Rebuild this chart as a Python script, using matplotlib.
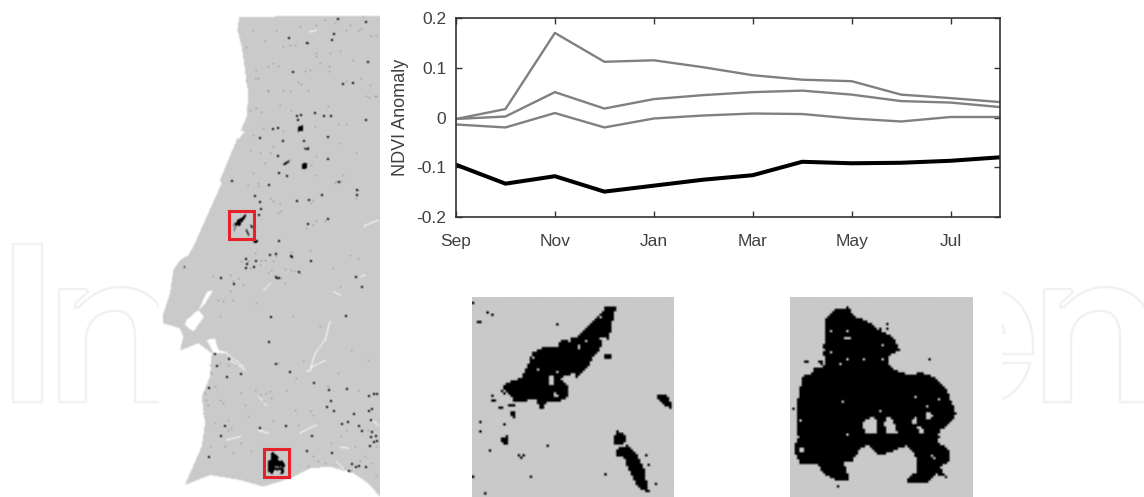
import numpy as np
import matplotlib
matplotlib.use("Agg")
import matplotlib.pyplot as plt
from matplotlib.path import Path
from matplotlib.patches import PathPatch, Rectangle
from matplotlib.colors import ListedColormap

plt.rcParams["font.family"] = ["Liberation Sans", "DejaVu Sans"]

W, H = 1144, 497
GREY = "#c9c9c9"
WM = "#f0f2f2"

# line chart
months = np.arange(12)
tick_pos = [0, 2, 4, 6, 8, 10]
tick_names = ["Sep", "Nov", "Jan", "Mar", "May", "Jul"]
y_ticks = [-0.2, -0.1, 0, 0.1, 0.2]
y_names = ["-0.2", "-0.1", "0", "0.1", "0.2"]
upper = [-0.003, 0.017, 0.170, 0.112, 0.115, 0.101, 0.085, 0.076, 0.073, 0.046, 0.039, 0.031]
middle = [-0.003, 0.002, 0.051, 0.018, 0.037, 0.045, 0.051, 0.054, 0.046, 0.033, 0.030, 0.021]
lower = [-0.014, -0.020, 0.009, -0.020, -0.002, 0.004, 0.008, 0.007, -0.002, -0.008, 0.001, 0.001]
anomaly = [-0.095, -0.133, -0.118, -0.149, -0.137, -0.125, -0.116, -0.089, -0.092, -0.091, -0.087, -0.080]

# map outline, zoomed coordinates (x3, origin 130,0)
coast = [(328, 50), (750, 48), (750, 1490), (715, 1450), (670, 1420), (600, 1400), (540, 1405),
         (480, 1435), (400, 1460), (330, 1440), (240, 1425), (165, 1455), (180, 1420), (215, 1340),
         (225, 1270), (215, 1190), (240, 1130), (245, 1060), (205, 1030), (150, 1052), (160, 1010),
         (150, 985), (100, 970), (100, 940), (120, 880), (130, 810), (150, 780), (175, 765),
         (190, 740), (230, 650), (275, 550), (270, 540), (320, 420), (350, 350), (355, 280),
         (345, 210), (335, 140), (322, 90)]
water = [[(170, 960), (205, 930), (222, 950), (190, 995), (165, 975)],
         [(205, 930), (232, 875), (250, 870), (222, 915)],
         [(230, 1020), (255, 1015), (265, 1050), (300, 1060), (250, 1058)],
         [(318, 392), (345, 392), (325, 418)]]
rivers = [[(600, 965), (585, 1020), (555, 1060), (540, 1110), (528, 1115)],
          [(540, 1105), (585, 1080)], [(400, 870), (420, 850)], [(702, 678), (745, 660)],
          [(538, 95), (558, 92)], [(620, 1385), (645, 1412)], [(300, 1080), (345, 1110)],
          [(610, 875), (630, 885)], [(510, 1300), (560, 1275)], [(385, 1190), (410, 1215)],
          [(290, 1320), (330, 1310)], [(690, 830), (705, 825)], [(720, 1255), (745, 1275)],
          [(385, 1290), (415, 1300)], [(290, 1060), (340, 1100)], [(630, 1340), (655, 1345)]]

# named burn scars on the map, zoomed coordinates
scars = [[(505, 380), (520, 375), (520, 392), (503, 395)], [(515, 492), (532, 487), (530, 505), (515, 508)],
         [(458, 492), (480, 480), (476, 488), (462, 497)], [(370, 722), (388, 718), (380, 729), (371, 729)],
         [(525, 125), (538, 130), (534, 133)], [(522, 445), (540, 441), (526, 449)],
         [(435, 828), (445, 835), (440, 838)], [(160, 797), (168, 797), (162, 806)]]

north_origin = (240, 10)
north_dark = [(292, 24), (280, 70), (275, 88), (145, 82), (382, 155), (338, 218), (375, 327), (222, 307), (57, 383),
              (97, 355), (112, 352), (263, 378), (128, 390), (113, 435), (263, 446), (307, 220), (375, 35), (200, 97),
              (157, 183), (272, 317), (250, 315), (180, 312), (168, 315), (172, 328), (190, 390), (203, 414)]
north_faint = [(230, 45), (330, 45), (355, 60), (365, 58), (370, 20), (410, 75), (395, 80), (320, 60), (285, 40),
               (255, 30), (130, 110), (150, 105), (165, 105), (230, 130), (228, 140), (270, 130), (240, 160),
               (268, 170), (268, 185), (195, 183), (212, 180), (100, 160), (85, 170), (115, 170), (50, 180), (45, 205),
               (55, 205), (175, 218), (185, 222), (130, 240), (85, 240), (85, 245), (150, 245), (205, 240), (320, 215),
               (365, 205), (390, 225), (380, 258), (388, 262), (405, 260), (410, 258), (265, 290), (120, 285),
               (48, 295), (65, 308), (155, 300), (295, 342), (318, 342), (225, 350), (40, 375), (130, 365), (100, 410),
               (60, 430), (30, 420), (75, 460), (90, 430), (230, 440), (215, 465), (18, 113), (40, 60), (75, 95),
               (110, 60), (180, 50), (300, 125), (340, 150), (20, 215), (30, 300), (70, 355), (350, 430), (300, 400)]
centre_origin = (210, 170)
centre_dark = [(205, 7), (228, 17), (65, 32), (175, 42), (132, 75), (148, 95), (152, 115), (146, 132), (293, 160),
               (352, 145), (334, 72), (440, 58), (438, 72), (260, 90), (295, 88), (385, 35), (197, 320), (205, 323),
               (105, 265), (110, 280), (130, 290), (105, 292), (137, 270), (178, 253), (197, 250), (245, 258),
               (240, 255), (265, 303), (300, 272), (205, 212), (182, 440), (435, 318), (453, 350), (405, 435),
               (30, 323), (70, 340), (125, 170)]
centre_faint = [(145, 40), (145, 50), (115, 45), (130, 10), (320, 15), (400, 15), (380, 35), (375, 40), (395, 35),
                (440, 85), (445, 62), (310, 90), (305, 100), (180, 85), (190, 95), (210, 100), (205, 130), (215, 125),
                (320, 155), (310, 165), (345, 155), (290, 175), (200, 260), (155, 270), (165, 270), (135, 250),
                (245, 300), (255, 305), (225, 298), (175, 310), (215, 325), (185, 300), (60, 315), (10, 320),
                (70, 335), (85, 325), (100, 345), (60, 365), (25, 390), (70, 390), (40, 395), (30, 440), (140, 400),
                (225, 340), (420, 255), (445, 265), (250, 440), (330, 470), (305, 270), (370, 295), (390, 350),
                (300, 240), (115, 275), (120, 295), (95, 275), (150, 285), (190, 275), (245, 248), (270, 310)]
south_origin = (195, 330)
south_dark = [(220, 33), (282, 125), (57, 70), (100, 85), (95, 140), (40, 172), (75, 315), (40, 380), (410, 368),
              (522, 345), (458, 275), (405, 210), (395, 228), (415, 240), (520, 240), (530, 235), (535, 190),
              (545, 190), (520, 195), (400, 178), (355, 158), (455, 175), (350, 315), (270, 285), (88, 285),
              (192, 292), (335, 360), (490, 285), (500, 300), (510, 408), (490, 405), (480, 410), (470, 400),
              (460, 420), (525, 320), (540, 315), (530, 305), (545, 330), (535, 335), (440, 280), (475, 250),
              (525, 268), (65, 105), (135, 130), (240, 100)]
south_faint = [(225, 185), (215, 190), (195, 195), (230, 205), (205, 215), (345, 245), (355, 255), (400, 170),
               (150, 225), (75, 210), (85, 220), (30, 190), (35, 210), (40, 225), (100, 300), (110, 295), (60, 280),
               (45, 350), (90, 350), (115, 370), (140, 340), (170, 365), (250, 100), (305, 145), (325, 95), (100, 105),
               (125, 105), (75, 100), (45, 105), (50, 130), (140, 190), (180, 180), (275, 180), (235, 275), (310, 285),
               (410, 340), (440, 320), (455, 300), (480, 350), (510, 380), (530, 400), (545, 440), (470, 420),
               (450, 415), (495, 395), (520, 300), (545, 350), (390, 400), (355, 380), (370, 395), (340, 410),
               (60, 170), (25, 250), (100, 270), (160, 260), (300, 240), (430, 130), (470, 60), (520, 90), (490, 180)]

# inset shapes, zoomed coordinates (x3, origin 460,290 and 780,290)
left_black = [[(470, 50), (445, 50), (420, 70), (395, 95), (370, 125), (340, 145), (305, 150), (290, 170), (245, 175),
               (215, 190), (205, 225), (185, 265), (135, 280), (130, 295), (155, 320), (155, 340), (225, 330),
               (245, 365), (258, 340), (300, 335), (322, 325), (322, 290), (300, 265), (340, 250), (350, 268),
               (385, 230), (395, 205), (420, 175), (445, 150), (455, 105), (462, 70)],
              [(432, 190), (452, 190), (452, 205), (432, 208)],
              [(592, 315), (615, 315), (630, 335), (637, 362), (615, 350), (595, 335)],
              [(462, 440), (470, 425), (495, 435), (498, 460), (475, 470), (460, 460)],
              [(465, 482), (505, 468), (525, 490), (555, 545), (560, 590), (568, 612), (550, 605), (530, 590),
               (500, 530), (490, 505), (468, 498)],
              [(122, 302), (135, 308), (135, 314), (122, 308)], [(95, 330), (110, 330), (110, 336), (95, 336)],
              [(112, 350), (132, 348), (130, 358), (112, 358)], [(145, 346), (168, 346), (168, 352), (145, 352)],
              [(152, 368), (165, 365), (170, 390), (155, 382)], [(128, 405), (140, 405), (138, 415)],
              [(122, 450), (135, 440), (145, 440), (140, 465), (128, 465)]]
left_holes = [[(265, 255), (283, 260), (283, 290), (270, 285)], [(280, 300), (298, 325), (285, 325)],
              [(420, 145), (440, 140), (445, 165), (425, 170)]]
left_dots_x = [38, 83, 100, 57, 62, 295, 438, 60, 60, 89, 261, 175, 182, 192, 38, 215, 78, 438, 565, 556, 590, 100]
left_dots_y = [40, 70, 75, 92, 98, 103, 52, 400, 430, 481, 469, 497, 503, 497, 561, 566, 612, 555, 526, 497, 587, 320]
left_gaps_x = [353, 353, 381, 221, 233, 330, 293, 421]
left_gaps_y = [166, 174, 150, 200, 240, 155, 248, 80]

right_black = [[(135, 90), (160, 60), (205, 50), (225, 80), (260, 90), (300, 120), (340, 140), (360, 180), (330, 195),
                (325, 220), (345, 240), (390, 255), (425, 245), (460, 260), (500, 295), (510, 320), (530, 370),
                (510, 400), (480, 420), (470, 450), (510, 480), (510, 510), (480, 530), (500, 560), (470, 550),
                (445, 575), (400, 580), (375, 570), (410, 545), (415, 520), (405, 490), (380, 465), (345, 480),
                (300, 495), (265, 465), (245, 470), (215, 515), (190, 515), (210, 570), (170, 570), (130, 550),
                (115, 520), (60, 520), (42, 475), (55, 440), (50, 380), (55, 320), (70, 255), (95, 250), (100, 235),
                (140, 225), (130, 190), (135, 130)],
               [(72, 212), (88, 212), (88, 220), (72, 220)], [(110, 210), (130, 215), (125, 225)]]
right_holes = [[(250, 395), (280, 378), (292, 395), (290, 428), (262, 430), (245, 410)],
               [(318, 380), (340, 385), (350, 420), (360, 430), (322, 432), (314, 405)],
               [(395, 385), (412, 382), (414, 398), (398, 398)], [(440, 365), (462, 372), (452, 388), (440, 382)],
               [(412, 410), (432, 412), (436, 430), (420, 428)],
               [(445, 482), (476, 508), (465, 512)], [(60, 475), (75, 470), (75, 485), (62, 490)]]
right_dots_x = [322, 300, 449, 42, 175, 320, 495, 480]
right_dots_y = [104, 112, 208, 352, 587, 118, 465, 438]
right_gaps_x = [155, 205, 205, 197, 212, 135, 155, 205, 255, 310, 308, 185, 188, 200, 410, 440, 475, 300, 60]
right_gaps_y = [120, 122, 140, 140, 140, 180, 185, 205, 205, 208, 168, 218, 335, 433, 320, 345, 325, 360, 388]

MAP_X0, MAP_X1, MAP_Y0, MAP_Y1 = 159, 380, 10, 497


def map_xy(points):
    return [(130 + x / 3, y / 3) for x, y in points]


def crop_xy(points, origin):
    return [(origin[0] + x / 3, origin[1] + y / 3) for x, y in points]


def px_axes(fig, x0, y0, x1, y1):
    return fig.add_axes([x0 / W, 1 - y1 / H, (x1 - x0) / W, (y1 - y0) / H])


def stamp(canvas, x, y, value, size=1):
    col, row = int(x - MAP_X0), int(y - MAP_Y0)
    if 0 <= row < canvas.shape[0] and 0 <= col < canvas.shape[1]:
        canvas[row:row + size, col:col + size] = value


def fill_poly(canvas, pts, poly, value):
    inside = Path(poly).contains_points(pts).reshape(canvas.shape)
    canvas[inside] = value


def scaled(poly, src_x, src_y, box):
    # shrink an inset shape into its red box on the map
    sx = (box[2] - box[0]) / (src_x[1] - src_x[0])
    sy = (box[3] - box[1]) / (src_y[1] - src_y[0])
    return [(box[0] + (x - src_x[0]) * sx, box[1] + (y - src_y[0]) * sy) for x, y in poly]


def smooth(canvas):
    # the source map is soft, run a small kernel over it (edge values repeated)
    padded = np.pad(canvas, 1, mode="edge")
    kernel = np.array([0.25, 0.5, 0.25])
    padded = np.apply_along_axis(lambda r: np.convolve(r, kernel, mode="same"), 1, padded)
    padded = np.apply_along_axis(lambda c: np.convolve(c, kernel, mode="same"), 0, padded)
    return padded[1:-1, 1:-1]


def build_map():
    h, w = MAP_Y1 - MAP_Y0, MAP_X1 - MAP_X0
    canvas = np.ones((h, w))
    gx, gy = np.meshgrid(MAP_X0 + np.arange(w) + 0.5, MAP_Y0 + np.arange(h) + 0.5)
    pts = np.c_[gx.ravel(), gy.ravel()]
    fill_poly(canvas, pts, map_xy(coast), 0.79)
    for poly in water:
        fill_poly(canvas, pts, map_xy(poly), 1.0)
    for line in rivers:
        xy = np.array(map_xy(line))
        for (x0, y0), (x1, y1) in zip(xy[:-1], xy[1:]):
            steps = int(max(abs(x1 - x0), abs(y1 - y0))) + 1
            for t in np.linspace(0, 1, steps + 1):
                stamp(canvas, x0 + (x1 - x0) * t, y0 + (y1 - y0) * t, 1.0)
    for poly in scars:
        fill_poly(canvas, pts, map_xy(poly), 0.0)
    for dots, origin in ((north_faint, north_origin), (centre_faint, centre_origin), (south_faint, south_origin)):
        for x, y in crop_xy(dots, origin):
            stamp(canvas, x, y, 0.4)
    for dots, origin in ((north_dark, north_origin), (centre_dark, centre_origin), (south_dark, south_origin)):
        for x, y in crop_xy(dots, origin):
            stamp(canvas, x, y, 0.0, size=2)
    for poly in left_black:
        fill_poly(canvas, pts, scaled(poly, (36, 640), (20, 620), (231, 213, 252, 237)), 0.0)
    for poly in right_black:
        fill_poly(canvas, pts, scaled(poly, (30, 580), (20, 620), (267, 451, 287, 476)), 0.0)
    for poly in right_holes:
        fill_poly(canvas, pts, scaled(poly, (30, 580), (20, 620), (267, 451, 287, 476)), 0.79)
    return smooth(canvas)


def raster(size, cell, black, holes, dots, gaps, x_start, y_start):
    # cells of the satellite mask: 1 = burnt
    xs = x_start + (np.arange(size[0]) + 0.5) * cell
    ys = y_start + (np.arange(size[1]) + 0.5) * cell
    gx, gy = np.meshgrid(xs, ys)
    pts = np.c_[gx.ravel(), gy.ravel()]
    grid = np.zeros(gx.size, dtype=bool)
    for poly in black:
        grid |= Path(poly).contains_points(pts)
    for poly in holes:
        grid &= ~Path(poly).contains_points(pts)
    grid = grid.reshape(gx.shape)
    for x, y in zip(*dots):
        grid[int((y - y_start) / cell), int((x - x_start) / cell)] = True
    for x, y in zip(*gaps):
        grid[int((y - y_start) / cell), int((x - x_start) / cell)] = False
    return grid


def draw_inset(fig, box, grid):
    ax = px_axes(fig, *box)
    ax.imshow(grid, cmap=ListedColormap([GREY, "black"]), interpolation="bilinear", aspect="auto")
    ax.axis("off")


def outline(bg, verts, codes, dx=0):
    shifted = [(x + dx, y) for x, y in verts]
    bg.add_patch(PathPatch(Path(shifted, codes), fill=False, ec=WM, lw=1.7, joinstyle="round"))


fig = plt.figure(figsize=(W / 100, H / 100), dpi=100)

# full page layer for watermark and map
bg = fig.add_axes([0, 0, 1, 1])

L, C = Path.LINETO, Path.CURVE4
n_verts = [(59, 289), (86, 289), (88, 292), (76, 303), (75, 308), (79, 307), (79, 307),
           (90, 295), (105, 287), (120, 287), (140, 287), (155, 297), (161, 310),
           (161, 402), (135, 402), (135, 337), (135, 320), (128, 310), (115, 311),
           (100, 311), (86, 320), (86, 340), (86, 402), (59, 402), (59, 289)]
n_codes = [Path.MOVETO, L, L, L, L, L, L, C, C, C, C, C, C, L, L, L, C, C, C, C, C, C, L, L, L]
outline(bg, n_verts, n_codes)
outline(bg, n_verts, n_codes, dx=985)
bg.add_patch(Rectangle((13, 244), 29, 158, fill=False, ec=WM, lw=1.7, joinstyle="round"))
outline(bg, [(1002, 292), (1020, 298), (1033, 318), (1033, 345), (1033, 354), (1002, 354)],
        [Path.MOVETO, C, C, C, L, L])
outline(bg, [(1002, 363), (1030, 363), (1027, 378), (1015, 395), (1002, 399)], [Path.MOVETO, L, C, C, C])
outline(bg, [(1002, 325), (1005, 333), (1002, 333)], [Path.MOVETO, L, L])

bg.imshow(build_map(), cmap="gray", vmin=0, vmax=1, aspect="auto", interpolation="nearest",
          extent=(MAP_X0, MAP_X1, MAP_Y1, MAP_Y0), zorder=3)
bg.add_patch(Rectangle((229, 211), 25, 28, fill=False, ec="#e8202a", lw=2.2, zorder=4))
bg.add_patch(Rectangle((264, 449), 25, 28, fill=False, ec="#e8202a", lw=2.2, zorder=4))
bg.set_xlim(0, W)
bg.set_ylim(H, 0)
bg.axis("off")

# line chart
ax = px_axes(fig, 456, 18, 1000, 217)
for series in (upper, middle, lower):
    ax.plot(months, series, color="#808080", lw=1.7)
ax.plot(months, anomaly, color="black", lw=2.9)
ax.set_xlim(0, 11)
ax.set_ylim(-0.2, 0.2)
ax.set_xticks(tick_pos)
ax.set_xticklabels(tick_names)
ax.set_yticks(y_ticks)
ax.set_yticklabels(y_names)
ax.tick_params(direction="in", length=4, width=1.0, top=True, right=True, labelsize=12.5,
               labelcolor="#404040", color="#333333")
ax.tick_params(axis="x", pad=12.5)
ax.tick_params(axis="y", pad=7)
for spine in ax.spines.values():
    spine.set_linewidth(1.2)
    spine.set_color("#333333")
ax.set_ylabel("NDVI Anomaly", fontsize=13, color="#404040", labelpad=5)

# zoomed burnt patches
left_grid = raster((84, 84), 7.2, left_black, left_holes, (left_dots_x, left_dots_y),
                   (left_gaps_x, left_gaps_y), 36, 20)
draw_inset(fig, (472, 297, 674, 497), left_grid)
right_grid = raster((78, 85), 7.05, right_black, right_holes, (right_dots_x, right_dots_y),
                    (right_gaps_x, right_gaps_y), 30, 20)
draw_inset(fig, (790, 297, 973, 497), right_grid)

fig.savefig("out.png", dpi=100)
plt.close(fig)
